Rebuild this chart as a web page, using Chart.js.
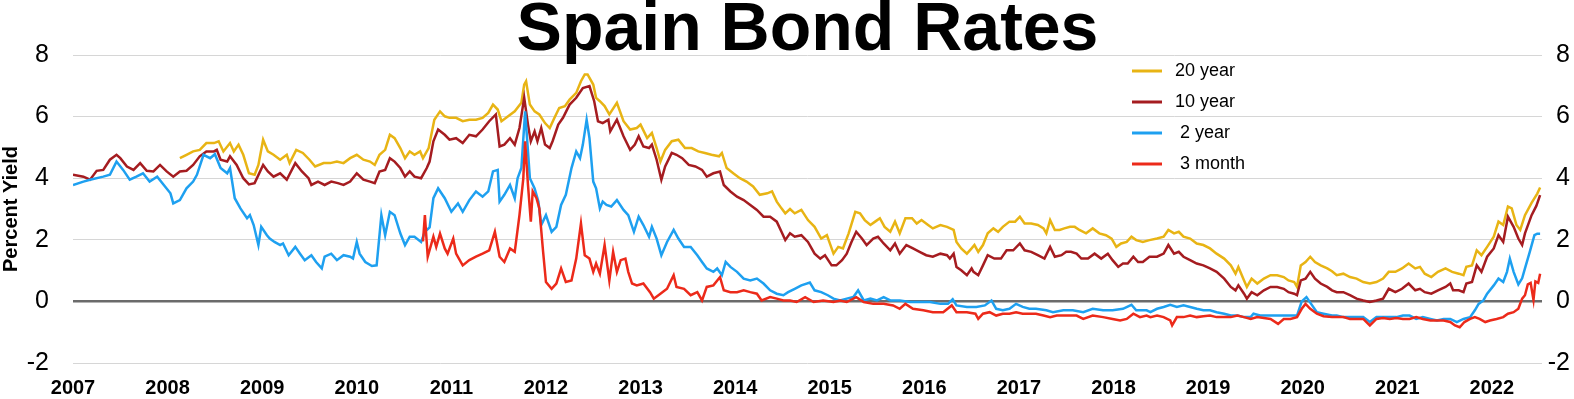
<!DOCTYPE html>
<html>
<head>
<meta charset="utf-8">
<title>Spain Bond Rates</title>
<script src="https://cdn.jsdelivr.net/npm/chart.js@4.4.1/dist/chart.umd.min.js"></script>
<style>
  html, body { margin: 0; padding: 0; background: #fff; }
  #wrap { width: 1574px; height: 399px; position: relative; }
</style>
</head>
<body>
<div id="wrap"><canvas id="bondChart"></canvas></div>
<script>
// axis ticks
const yearTicks = [2007, 2008, 2009, 2010, 2011, 2012, 2013, 2014, 2015, 2016, 2017, 2018, 2019, 2020, 2021, 2022];
const yieldTicks = [-2, 0, 2, 4, 6, 8];

// 20 year
const y20Dates = [
  2008.13, 2008.20, 2008.27, 2008.34, 2008.41, 2008.49, 2008.54, 2008.59, 2008.66, 2008.70, 2008.75, 2008.80, 2008.86, 2008.92, 2008.96,
  2009.01, 2009.06, 2009.12, 2009.19, 2009.26, 2009.29, 2009.36, 2009.43, 2009.50, 2009.56, 2009.65, 2009.72, 2009.79, 2009.86, 2009.93,
  2010.00, 2010.07, 2010.14, 2010.19, 2010.24, 2010.30, 2010.35, 2010.40, 2010.46, 2010.51, 2010.56, 2010.61, 2010.67, 2010.70, 2010.76, 2010.82, 2010.88, 2010.93, 2010.98,
  2011.05, 2011.12, 2011.19, 2011.26, 2011.33, 2011.39, 2011.44, 2011.49, 2011.53, 2011.60, 2011.67, 2011.74, 2011.77, 2011.79, 2011.83, 2011.88, 2011.93, 2011.99,
  2012.04, 2012.09, 2012.14, 2012.20, 2012.25, 2012.32, 2012.37, 2012.41, 2012.44, 2012.50, 2012.53, 2012.57, 2012.62, 2012.67, 2012.75, 2012.82, 2012.89, 2012.96,
  2013.00, 2013.07, 2013.12, 2013.17, 2013.21, 2013.26, 2013.33, 2013.40, 2013.47, 2013.54, 2013.61, 2013.68, 2013.75, 2013.83, 2013.86, 2013.91, 2013.98,
  2014.05, 2014.12, 2014.19, 2014.26, 2014.34, 2014.39, 2014.44, 2014.49, 2014.53, 2014.58, 2014.63, 2014.70, 2014.77, 2014.84, 2014.91, 2014.97,
  2015.04, 2015.09, 2015.14, 2015.20, 2015.27, 2015.32, 2015.37, 2015.43, 2015.48, 2015.53, 2015.58, 2015.64, 2015.69, 2015.74, 2015.80, 2015.87, 2015.92, 2015.97,
  2016.04, 2016.09, 2016.17, 2016.24, 2016.31, 2016.34, 2016.39, 2016.45, 2016.50, 2016.53, 2016.57, 2016.62, 2016.67, 2016.73, 2016.78, 2016.83, 2016.90, 2016.96,
  2017.01, 2017.06, 2017.13, 2017.20, 2017.26, 2017.29, 2017.33, 2017.38, 2017.43, 2017.48, 2017.54, 2017.59, 2017.64, 2017.71, 2017.78, 2017.85, 2017.92, 2017.98,
  2018.03, 2018.08, 2018.14, 2018.19, 2018.24, 2018.31, 2018.38, 2018.46, 2018.53, 2018.58, 2018.64, 2018.69, 2018.74, 2018.81, 2018.88, 2018.95,
  2019.02, 2019.09, 2019.17, 2019.24, 2019.29, 2019.32, 2019.38, 2019.41, 2019.46, 2019.52, 2019.59, 2019.66, 2019.73, 2019.80, 2019.85, 2019.91, 2019.94, 2019.98,
  2020.03, 2020.08, 2020.13, 2020.19, 2020.26, 2020.31, 2020.36, 2020.43, 2020.50, 2020.57, 2020.64, 2020.71, 2020.78, 2020.85, 2020.91, 2020.98,
  2021.05, 2021.12, 2021.19, 2021.24, 2021.29, 2021.36, 2021.43, 2021.51, 2021.58, 2021.65, 2021.70, 2021.73, 2021.79, 2021.84, 2021.89, 2021.95,
  2022.02, 2022.07, 2022.12, 2022.17, 2022.21, 2022.26, 2022.30, 2022.35, 2022.42, 2022.48, 2022.51
];
const y20Rates = [
  4.65, 4.76, 4.87, 4.92, 5.14, 5.14, 5.20, 4.87, 5.14, 4.87, 5.09, 4.76, 4.16, 4.11, 4.43,
  5.25, 4.87, 4.76, 4.60, 4.76, 4.49, 4.92, 4.82, 4.60, 4.38, 4.49, 4.49, 4.54, 4.49, 4.65,
  4.76, 4.60, 4.54, 4.43, 4.76, 4.92, 5.41, 5.30, 4.98, 4.65, 4.87, 4.76, 4.87, 4.65, 4.98, 5.90, 6.17, 6.01, 5.96,
  5.96, 5.85, 5.90, 5.90, 5.96, 6.12, 6.39, 6.23, 5.85, 6.01, 6.17, 6.45, 7.04, 7.15, 6.39, 6.17, 6.07, 5.79,
  5.63, 5.96, 6.28, 6.34, 6.55, 6.77, 7.15, 7.37, 7.37, 7.04, 6.61, 6.50, 6.34, 6.07, 6.45, 5.85, 5.58, 5.63,
  5.74, 5.30, 5.47, 4.98, 4.54, 4.92, 5.20, 5.25, 4.98, 4.98, 4.87, 4.82, 4.76, 4.71, 4.82, 4.33, 4.16,
  4.00, 3.89, 3.73, 3.46, 3.51, 3.57, 3.24, 3.02, 2.86, 3.00, 2.86, 2.97, 2.64, 2.42, 2.04, 2.15,
  1.55, 1.77, 1.72, 2.21, 2.91, 2.86, 2.64, 2.48, 2.59, 2.70, 2.42, 2.26, 2.59, 2.21, 2.70, 2.70, 2.53, 2.64,
  2.48, 2.37, 2.48, 2.42, 2.32, 1.93, 1.72, 1.55, 1.72, 1.83, 1.61, 1.83, 2.21, 2.37, 2.26, 2.42, 2.59, 2.59,
  2.75, 2.53, 2.53, 2.48, 2.37, 2.21, 2.64, 2.32, 2.32, 2.37, 2.42, 2.42, 2.32, 2.21, 2.37, 2.21, 2.15, 2.04,
  1.77, 1.88, 1.93, 2.10, 1.99, 1.93, 1.99, 2.04, 2.10, 2.32, 2.21, 2.26, 2.10, 2.04, 1.88, 1.83,
  1.72, 1.55, 1.39, 1.17, 0.90, 1.12, 0.68, 0.47, 0.74, 0.58, 0.74, 0.85, 0.85, 0.79, 0.68, 0.63, 0.47, 1.17,
  1.28, 1.45, 1.28, 1.17, 1.07, 0.98, 0.85, 0.90, 0.79, 0.74, 0.63, 0.58, 0.63, 0.74, 0.96, 0.96,
  1.07, 1.23, 1.07, 1.12, 0.90, 0.79, 0.96, 1.07, 0.96, 0.90, 0.85, 1.12, 1.17, 1.66, 1.50, 1.77,
  2.10, 2.59, 2.48, 3.08, 3.02, 2.48, 2.32, 2.80, 3.20, 3.50, 3.70
];

// 10 year
const y10Dates = [
  2007.00, 2007.11, 2007.18, 2007.25, 2007.32, 2007.39, 2007.46, 2007.50, 2007.57, 2007.64, 2007.71, 2007.78, 2007.85, 2007.92, 2007.99,
  2008.06, 2008.13, 2008.20, 2008.27, 2008.34, 2008.41, 2008.49, 2008.52, 2008.56, 2008.63, 2008.66, 2008.73, 2008.80, 2008.86, 2008.92,
  2009.01, 2009.06, 2009.12, 2009.19, 2009.26, 2009.35, 2009.42, 2009.49, 2009.52, 2009.59, 2009.66, 2009.73, 2009.80, 2009.86, 2009.93,
  2010.00, 2010.07, 2010.14, 2010.19, 2010.24, 2010.30, 2010.35, 2010.40, 2010.46, 2010.51, 2010.56, 2010.61, 2010.68, 2010.74, 2010.77, 2010.81, 2010.86, 2010.93, 2010.98,
  2011.05, 2011.12, 2011.19, 2011.26, 2011.33, 2011.40, 2011.47, 2011.51, 2011.56, 2011.62, 2011.67, 2011.72, 2011.77, 2011.81, 2011.84, 2011.88, 2011.91, 2011.95, 2011.99,
  2012.04, 2012.07, 2012.13, 2012.18, 2012.25, 2012.32, 2012.39, 2012.46, 2012.51, 2012.55, 2012.60, 2012.66, 2012.68, 2012.75, 2012.82, 2012.89, 2012.94, 2012.98,
  2013.03, 2013.09, 2013.12, 2013.17, 2013.22, 2013.26, 2013.33, 2013.38, 2013.44, 2013.51, 2013.58, 2013.65, 2013.70, 2013.77, 2013.84, 2013.88, 2013.95,
  2014.02, 2014.09, 2014.16, 2014.23, 2014.30, 2014.37, 2014.44, 2014.49, 2014.53, 2014.58, 2014.63, 2014.70, 2014.77, 2014.84, 2014.90, 2014.95,
  2015.02, 2015.07, 2015.13, 2015.18, 2015.23, 2015.28, 2015.34, 2015.39, 2015.46, 2015.51, 2015.57, 2015.64, 2015.69, 2015.74, 2015.81, 2015.88, 2015.95,
  2016.02, 2016.09, 2016.17, 2016.24, 2016.27, 2016.31, 2016.34, 2016.39, 2016.45, 2016.50, 2016.52, 2016.57, 2016.62, 2016.67, 2016.74, 2016.81, 2016.87, 2016.94,
  2017.01, 2017.06, 2017.13, 2017.20, 2017.27, 2017.33, 2017.38, 2017.45, 2017.50, 2017.55, 2017.61, 2017.66, 2017.73, 2017.80, 2017.87, 2017.94, 2017.99,
  2018.05, 2018.10, 2018.15, 2018.21, 2018.26, 2018.31, 2018.38, 2018.46, 2018.53, 2018.58, 2018.64, 2018.69, 2018.74, 2018.81, 2018.88, 2018.95,
  2019.02, 2019.09, 2019.17, 2019.24, 2019.29, 2019.32, 2019.38, 2019.41, 2019.46, 2019.52, 2019.59, 2019.66, 2019.73, 2019.80, 2019.85, 2019.91, 2019.94, 2019.98,
  2020.03, 2020.08, 2020.13, 2020.19, 2020.26, 2020.31, 2020.36, 2020.43, 2020.50, 2020.57, 2020.64, 2020.71, 2020.78, 2020.85, 2020.91, 2020.98,
  2021.05, 2021.12, 2021.19, 2021.24, 2021.29, 2021.36, 2021.43, 2021.51, 2021.56, 2021.59, 2021.65, 2021.70, 2021.73, 2021.79, 2021.84, 2021.89, 2021.95,
  2022.02, 2022.07, 2022.12, 2022.17, 2022.23, 2022.28, 2022.32, 2022.35, 2022.42, 2022.47, 2022.51
];
const y10Rates = [
  4.11, 4.05, 3.95, 4.24, 4.27, 4.60, 4.76, 4.65, 4.38, 4.27, 4.49, 4.24, 4.22, 4.43, 4.22,
  4.05, 4.22, 4.24, 4.43, 4.71, 4.87, 4.87, 4.92, 4.60, 4.54, 4.71, 4.43, 4.00, 3.80, 3.84,
  4.43, 4.22, 4.05, 4.16, 3.95, 4.49, 4.22, 4.00, 3.78, 3.89, 3.78, 3.89, 3.84, 3.78, 3.89,
  4.16, 3.95, 3.89, 3.84, 4.22, 4.27, 4.65, 4.54, 4.33, 4.05, 4.22, 4.05, 4.00, 4.33, 4.54, 5.20, 5.58, 5.41, 5.25,
  5.30, 5.14, 5.41, 5.36, 5.58, 5.85, 6.07, 5.03, 5.09, 5.30, 5.09, 5.63, 6.61, 5.74, 5.20, 5.52, 5.20, 5.63, 5.09,
  4.98, 5.20, 5.74, 5.96, 6.39, 6.61, 6.93, 6.99, 6.50, 5.85, 5.79, 5.90, 5.52, 5.90, 5.36, 4.92, 5.09, 5.36,
  5.03, 4.98, 5.09, 4.60, 3.95, 4.38, 4.82, 4.76, 4.65, 4.43, 4.38, 4.27, 4.05, 4.16, 4.22, 3.78, 3.57,
  3.40, 3.29, 3.13, 2.97, 2.75, 2.75, 2.59, 2.26, 1.99, 2.21, 2.10, 2.15, 1.93, 1.55, 1.39, 1.50,
  1.17, 1.17, 1.34, 1.55, 1.93, 2.26, 2.04, 1.83, 2.04, 2.10, 1.88, 1.66, 1.88, 1.55, 1.83, 1.72, 1.61,
  1.50, 1.45, 1.55, 1.50, 1.39, 1.55, 1.12, 1.01, 0.85, 1.07, 0.96, 0.85, 1.17, 1.50, 1.39, 1.39, 1.66, 1.66,
  1.88, 1.66, 1.61, 1.50, 1.39, 1.77, 1.45, 1.50, 1.61, 1.61, 1.55, 1.39, 1.39, 1.55, 1.39, 1.55, 1.34,
  1.12, 1.23, 1.23, 1.45, 1.28, 1.28, 1.45, 1.45, 1.55, 1.83, 1.55, 1.61, 1.45, 1.34, 1.23, 1.17,
  1.07, 0.96, 0.74, 0.47, 0.36, 0.52, 0.25, 0.09, 0.30, 0.20, 0.36, 0.47, 0.47, 0.41, 0.30, 0.25, 0.20, 0.68,
  0.74, 0.96, 0.74, 0.58, 0.47, 0.36, 0.30, 0.30, 0.20, 0.09, 0.03, -0.02, 0.03, 0.09, 0.41, 0.30,
  0.41, 0.58, 0.36, 0.41, 0.30, 0.25, 0.36, 0.47, 0.58, 0.36, 0.36, 0.30, 0.58, 0.63, 1.17, 0.96, 1.45,
  1.72, 2.15, 1.93, 2.75, 2.42, 2.04, 1.83, 2.21, 2.80, 3.10, 3.45
];

// 2 year
const y2Dates = [
  2007.00, 2007.11, 2007.18, 2007.32, 2007.39, 2007.46, 2007.53, 2007.60, 2007.67, 2007.74, 2007.81, 2007.89, 2007.96,
  2008.03, 2008.06, 2008.13, 2008.20, 2008.27, 2008.31, 2008.38, 2008.45, 2008.50, 2008.56, 2008.63, 2008.66, 2008.71, 2008.77, 2008.84, 2008.87, 2008.91, 2008.96, 2008.99,
  2009.05, 2009.08, 2009.13, 2009.19, 2009.22, 2009.28, 2009.35, 2009.40, 2009.45, 2009.52, 2009.57, 2009.63, 2009.66, 2009.73, 2009.79, 2009.86, 2009.93, 2009.96,
  2010.00, 2010.03, 2010.09, 2010.16, 2010.21, 2010.26, 2010.30, 2010.35, 2010.40, 2010.46, 2010.51, 2010.56, 2010.61, 2010.68, 2010.72, 2010.77, 2010.81, 2010.86, 2010.93,
  2011.00, 2011.07, 2011.12, 2011.19, 2011.26, 2011.33, 2011.39, 2011.44, 2011.49, 2011.51, 2011.56, 2011.62, 2011.67, 2011.70, 2011.74, 2011.78, 2011.83, 2011.88, 2011.92, 2011.95,
  2012.00, 2012.06, 2012.11, 2012.16, 2012.21, 2012.27, 2012.32, 2012.36, 2012.39, 2012.43, 2012.46, 2012.50, 2012.53, 2012.57, 2012.60, 2012.64, 2012.69, 2012.75, 2012.82, 2012.87, 2012.93, 2012.98,
  2013.03, 2013.09, 2013.12, 2013.17, 2013.22, 2013.28, 2013.35, 2013.40, 2013.46, 2013.53, 2013.60, 2013.65, 2013.70, 2013.77, 2013.81, 2013.86, 2013.90, 2013.95,
  2014.02, 2014.09, 2014.16, 2014.23, 2014.30, 2014.37, 2014.44, 2014.51, 2014.56, 2014.63, 2014.70, 2014.79, 2014.84, 2014.91, 2014.98,
  2015.04, 2015.11, 2015.18, 2015.25, 2015.30, 2015.36, 2015.43, 2015.50, 2015.57, 2015.64, 2015.74, 2015.85, 2015.95,
  2016.06, 2016.17, 2016.25, 2016.30, 2016.34, 2016.45, 2016.55, 2016.64, 2016.71, 2016.76, 2016.83, 2016.90, 2016.97,
  2017.04, 2017.11, 2017.18, 2017.29, 2017.36, 2017.47, 2017.57, 2017.68, 2017.78, 2017.89, 2017.99,
  2018.10, 2018.19, 2018.24, 2018.35, 2018.39, 2018.46, 2018.53, 2018.60, 2018.67, 2018.74, 2018.81, 2018.88, 2018.95,
  2019.02, 2019.09, 2019.17, 2019.24, 2019.31, 2019.38, 2019.45, 2019.48, 2019.55, 2019.62, 2019.69, 2019.80, 2019.94, 2019.99,
  2020.04, 2020.10, 2020.15, 2020.22, 2020.31, 2020.36, 2020.43, 2020.50, 2020.57, 2020.64, 2020.71, 2020.78, 2020.85, 2020.92, 2020.99,
  2021.06, 2021.13, 2021.20, 2021.27, 2021.35, 2021.42, 2021.49, 2021.56, 2021.63, 2021.70, 2021.77, 2021.82, 2021.86, 2021.91, 2021.95,
  2022.02, 2022.07, 2022.12, 2022.16, 2022.19, 2022.23, 2022.28, 2022.32, 2022.35, 2022.40, 2022.45, 2022.48, 2022.51
];
const y2Rates = [
  3.78, 3.89, 3.95, 4.05, 4.11, 4.54, 4.27, 3.95, 4.05, 4.16, 3.89, 4.05, 3.78,
  3.51, 3.18, 3.29, 3.67, 3.89, 4.11, 4.76, 4.65, 4.78, 4.33, 4.16, 4.33, 3.35, 3.02, 2.70, 2.80, 2.48, 1.83, 2.42,
  2.15, 2.04, 1.93, 1.83, 1.88, 1.50, 1.77, 1.55, 1.34, 1.50, 1.28, 1.07, 1.45, 1.55, 1.34, 1.50, 1.45, 1.39,
  1.93, 1.55, 1.28, 1.15, 1.17, 2.80, 2.15, 2.91, 2.80, 2.21, 1.83, 2.10, 2.10, 1.93, 2.26, 2.40, 3.35, 3.67, 3.35,
  2.91, 3.18, 2.91, 3.29, 3.57, 3.40, 3.57, 4.22, 4.27, 3.24, 3.46, 3.78, 3.35, 4.00, 4.33, 6.17, 4.00, 3.67, 3.24, 2.48,
  2.80, 2.26, 2.42, 3.13, 3.46, 4.33, 4.87, 4.65, 5.09, 5.90, 5.30, 3.89, 3.67, 3.02, 3.24, 3.13, 3.08, 3.29, 2.97, 2.80, 2.26, 2.75,
  2.48, 2.10, 2.42, 2.04, 1.50, 1.93, 2.32, 2.04, 1.77, 1.77, 1.50, 1.28, 1.07, 0.96, 1.07, 0.85, 1.28, 1.12,
  0.96, 0.74, 0.68, 0.74, 0.58, 0.36, 0.25, 0.20, 0.30, 0.41, 0.52, 0.61, 0.36, 0.30, 0.20,
  0.09, 0.03, 0.09, 0.14, 0.36, 0.03, 0.09, 0.03, 0.14, 0.03, 0.03, -0.02, -0.02,
  -0.02, -0.08, -0.08, 0.07, -0.13, -0.18, -0.18, -0.13, 0.03, -0.24, -0.29, -0.24, -0.08,
  -0.18, -0.24, -0.24, -0.29, -0.35, -0.29, -0.29, -0.35, -0.24, -0.29, -0.29,
  -0.24, -0.11, -0.29, -0.29, -0.35, -0.24, -0.18, -0.11, -0.18, -0.13, -0.18, -0.24, -0.29,
  -0.29, -0.35, -0.40, -0.46, -0.46, -0.51, -0.51, -0.40, -0.46, -0.46, -0.46, -0.46, -0.46, 0.00,
  0.14, -0.13, -0.35, -0.40, -0.46, -0.46, -0.51, -0.51, -0.51, -0.51, -0.67, -0.51, -0.51, -0.51, -0.51,
  -0.46, -0.46, -0.57, -0.51, -0.57, -0.62, -0.57, -0.57, -0.67, -0.57, -0.51, -0.29, -0.08, 0.03, 0.25,
  0.52, 0.74, 0.63, 0.96, 1.39, 0.96, 0.55, 0.75, 1.07, 1.60, 2.15, 2.20, 2.20
];

// 3 month
const m3Dates = [
  2010.70, 2010.72, 2010.75, 2010.81, 2010.84, 2010.88, 2010.93, 2010.96,
  2011.02, 2011.05, 2011.12, 2011.19, 2011.26, 2011.33, 2011.40, 2011.46, 2011.51, 2011.56, 2011.62, 2011.67, 2011.72, 2011.76, 2011.78, 2011.81, 2011.84, 2011.86, 2011.90, 2011.93, 2011.97,
  2012.00, 2012.06, 2012.11, 2012.16, 2012.21, 2012.27, 2012.32, 2012.37, 2012.41, 2012.46, 2012.50, 2012.53, 2012.57, 2012.62, 2012.67, 2012.71, 2012.75, 2012.79, 2012.84, 2012.87, 2012.91, 2012.96,
  2013.03, 2013.10, 2013.14, 2013.21, 2013.28, 2013.35, 2013.38, 2013.46, 2013.53, 2013.60, 2013.65, 2013.70, 2013.77, 2013.84, 2013.88, 2013.95,
  2014.02, 2014.09, 2014.16, 2014.23, 2014.28, 2014.37, 2014.44, 2014.51, 2014.58, 2014.65, 2014.74, 2014.83, 2014.93,
  2015.04, 2015.11, 2015.18, 2015.28, 2015.36, 2015.46, 2015.57, 2015.67, 2015.74, 2015.80, 2015.88, 2015.99,
  2016.09, 2016.20, 2016.29, 2016.34, 2016.45, 2016.54, 2016.57, 2016.62, 2016.69, 2016.76, 2016.83, 2016.90, 2016.97,
  2017.04, 2017.11, 2017.18, 2017.26, 2017.33, 2017.40, 2017.50, 2017.61, 2017.68, 2017.78, 2017.89, 2017.99,
  2018.07, 2018.14, 2018.21, 2018.28, 2018.35, 2018.39, 2018.46, 2018.53, 2018.60, 2018.62, 2018.67, 2018.74, 2018.81, 2018.88, 2018.95,
  2019.02, 2019.09, 2019.17, 2019.24, 2019.31, 2019.38, 2019.45, 2019.52, 2019.59, 2019.66, 2019.74, 2019.80, 2019.87, 2019.94, 2019.99,
  2020.03, 2020.08, 2020.15, 2020.22, 2020.31, 2020.36, 2020.43, 2020.50, 2020.57, 2020.64, 2020.71, 2020.78, 2020.85, 2020.92, 2020.99,
  2021.06, 2021.13, 2021.20, 2021.27, 2021.35, 2021.42, 2021.49, 2021.56, 2021.61, 2021.66, 2021.71, 2021.77, 2021.82, 2021.87, 2021.93, 2021.98,
  2022.05, 2022.12, 2022.17, 2022.23, 2022.28, 2022.32, 2022.35, 2022.38, 2022.41, 2022.44, 2022.46, 2022.49, 2022.51
];
const m3Rates = [
  1.95, 2.80, 1.45, 2.10, 1.77, 2.20, 1.72, 1.55,
  2.04, 1.55, 1.17, 1.34, 1.45, 1.55, 1.66, 2.26, 1.45, 1.28, 1.72, 1.61, 2.80, 3.98, 5.20, 3.78, 2.59, 3.57, 3.35, 3.02, 1.61,
  0.63, 0.41, 0.58, 1.07, 0.63, 0.68, 1.39, 2.53, 1.50, 1.39, 0.96, 1.23, 0.90, 1.83, 0.68, 1.61, 0.96, 1.34, 1.39, 0.96, 0.58, 0.52,
  0.58, 0.30, 0.09, 0.25, 0.41, 0.85, 0.47, 0.41, 0.20, 0.30, 0.03, 0.47, 0.52, 0.79, 0.36, 0.30,
  0.30, 0.36, 0.30, 0.25, 0.03, 0.14, 0.09, 0.03, 0.03, -0.02, 0.14, -0.02, 0.03,
  -0.02, 0.03, -0.02, 0.14, -0.02, -0.08, -0.08, -0.13, -0.24, -0.08, -0.24, -0.29,
  -0.35, -0.35, -0.13, -0.35, -0.35, -0.40, -0.57, -0.40, -0.35, -0.46, -0.40, -0.40, -0.35,
  -0.40, -0.40, -0.40, -0.46, -0.51, -0.46, -0.46, -0.46, -0.57, -0.46, -0.51, -0.57,
  -0.62, -0.57, -0.40, -0.51, -0.46, -0.51, -0.46, -0.51, -0.62, -0.78, -0.51, -0.51, -0.46, -0.51, -0.48,
  -0.46, -0.51, -0.51, -0.51, -0.46, -0.51, -0.57, -0.51, -0.54, -0.57, -0.73, -0.57, -0.57, -0.51, -0.24,
  -0.08, -0.24, -0.40, -0.48, -0.51, -0.51, -0.51, -0.57, -0.57, -0.57, -0.78, -0.57, -0.54, -0.57, -0.54,
  -0.57, -0.57, -0.51, -0.57, -0.62, -0.62, -0.62, -0.67, -0.78, -0.84, -0.67, -0.57, -0.51, -0.57, -0.67, -0.62,
  -0.57, -0.51, -0.40, -0.35, -0.24, 0.09, 0.20, 0.55, 0.60, 0.05, 0.65, 0.60, 0.90
];

const toPoints = (dates, rates) => dates.map((d, i) => ({ x: d, y: rates[i] }));

// legend drawn as a short line plus label inside the plot, upper right
const insideLegend = {
    id: 'insideLegend',
    afterDraw(chart) {
        const ctx = chart.ctx;
        ctx.save();
        ctx.font = '18px "Liberation Sans", Arial, sans-serif';
        ctx.textBaseline = 'middle';
        ctx.textAlign = 'left';
        chart.data.datasets.forEach((ds, i) => {
            const y = 71 + i * 31;
            ctx.strokeStyle = ds.borderColor;
            ctx.lineWidth = 3;
            ctx.beginPath();
            ctx.moveTo(1132, y);
            ctx.lineTo(1162, y);
            ctx.stroke();
            ctx.fillStyle = '#000';
            ctx.fillText(ds.label, 1175, y);
        });
        ctx.restore();
    }
};

// y axes: tick padding should not eat into the plot height
const noVerticalPad = (scale) => { scale.paddingTop = 0; scale.paddingBottom = 0; };

Chart.defaults.font.family = '"Liberation Sans", Arial, sans-serif';
Chart.defaults.color = '#000';

const ctx = document.getElementById('bondChart').getContext('2d');
const bondChart = new Chart(ctx, {
    type: 'line',
    data: {
        datasets: [
            { label: '20 year', data: toPoints(y20Dates, y20Rates), borderColor: '#e8b414', order: 4 },
            { label: '10 year', data: toPoints(y10Dates, y10Rates), borderColor: '#a51c20', order: 3 },
            { label: ' 2 year', data: toPoints(y2Dates, y2Rates), borderColor: '#1ea0f0', order: 2 },
            { label: ' 3 month', data: toPoints(m3Dates, m3Rates), borderColor: '#ec2a1a', order: 1 }
        ]
    },
    options: {
        responsive: true,
        maintainAspectRatio: false,
        animation: false,
        devicePixelRatio: 1,
        layout: { padding: { left: 0, right: 4, top: 0, bottom: 0 } },
        elements: {
            point: { radius: 0 },
            line: { borderWidth: 2.5, tension: 0, fill: false }
        },
        plugins: {
            legend: { display: false },
            tooltip: { enabled: false },
            title: {
                display: true,
                fullSize: false,
                text: 'Spain Bond Rates',
                color: '#000',
                font: { size: 68, weight: 'bold', lineHeight: 1 },
                padding: { top: -3, bottom: -10 }
            }
        },
        scales: {
            x: {
                type: 'linear',
                min: 2007,
                max: 2022.53,
                grid: { display: false, drawTicks: false },
                border: { display: false },
                afterBuildTicks: (scale) => { scale.ticks = yearTicks.map(v => ({ value: v })); },
                afterFit: (scale) => { scale.height = 36; },
                ticks: {
                    autoSkip: false,
                    maxRotation: 0,
                    padding: 13,
                    color: '#000',
                    font: { size: 20, weight: 'bold' },
                    callback: (v) => String(v)
                }
            },
            y: {
                position: 'left',
                min: -2,
                max: 8,
                afterBuildTicks: (scale) => { scale.ticks = yieldTicks.map(v => ({ value: v })); },
                afterFit: (scale) => { scale.width = 73; noVerticalPad(scale); },
                border: { display: false },
                grid: {
                    drawTicks: false,
                    color: (c) => (c.tick && c.tick.value === 0 ? '#6b6b6b' : '#d6d6d6'),
                    lineWidth: (c) => (c.tick && c.tick.value === 0 ? 2.5 : 1)
                },
                title: {
                    display: true,
                    text: 'Percent Yield',
                    color: '#000',
                    font: { size: 20, weight: 'bold', lineHeight: 1.1 },
                    padding: { top: 0, bottom: 0 }
                },
                ticks: { padding: 24, color: '#000', font: { size: 25 } }
            },
            y2: {
                position: 'right',
                min: -2,
                max: 8,
                afterBuildTicks: (scale) => { scale.ticks = yieldTicks.map(v => ({ value: v })); },
                afterFit: (scale) => { scale.width = 28; noVerticalPad(scale); },
                border: { display: false },
                grid: { display: false, drawTicks: false },
                ticks: { crossAlign: 'far', padding: 6, color: '#000', font: { size: 25 } }
            }
        }
    },
    plugins: [insideLegend]
});
</script>
</body>
</html>
